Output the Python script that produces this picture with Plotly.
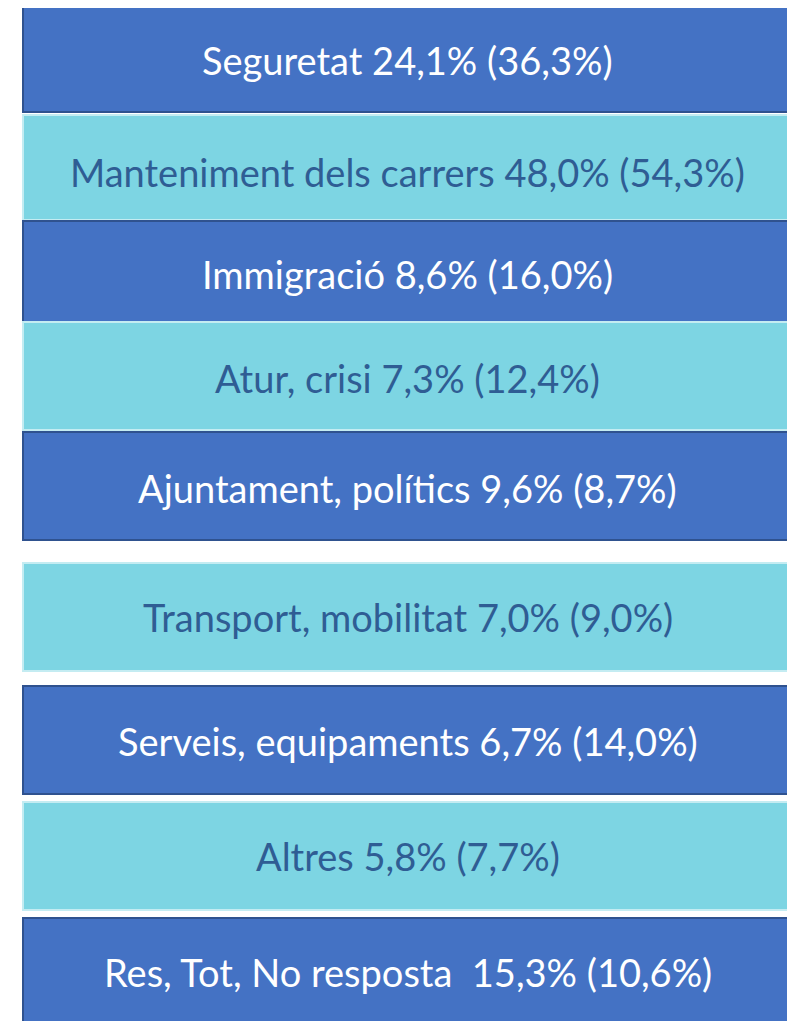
import plotly.graph_objects as go

# Data
categories = ["Seguretat", "Manteniment dels carrers", "Immigració", "Atur, crisi",
              "Ajuntament, polítics", "Transport, mobilitat", "Serveis, equipaments",
              "Altres", "Res, Tot, No resposta "]
pct_current = [24.1, 48.0, 8.6, 7.3, 9.6, 7.0, 6.7, 5.8, 15.3]
pct_previous = [36.3, 54.3, 16.0, 12.4, 8.7, 9.0, 14.0, 7.7, 10.6]

# Layout (pixel geometry of the boxes, in page pixels)
box_top = [5, 115, 221, 322, 432, 563, 686, 802, 918]
box_bottom = [112, 220, 322, 430, 540, 671, 794, 910, 1030]
label_y = [60, 172, 274, 378, 488, 617, 741, 856, 972]
box_left, box_right = 23, 792
W, H = 795, 1021
OFF = 8  # default page body margin

dark_fill, dark_line, dark_text = "#4472C4", "#2F528F", "#FFFFFF"
light_fill, light_line, light_text = "#7DD5E3", "#C4ECF2", "#2F5D94"
is_dark = [True, False, True, False, True, False, True, False, True]

def fmt(v):
    return f"{v:.1f}".replace(".", ",") + "%"

labels = [f"{c} {fmt(a)} ({fmt(b)})" for c, a, b in zip(categories, pct_current, pct_previous)]

fig = go.Figure()
centers = [(t + b) / 2 for t, b in zip(box_top, box_bottom)]
heights = [b - t for t, b in zip(box_top, box_bottom)]

fig.add_trace(go.Bar(
    orientation="h",
    y=centers,
    x=[box_right - box_left] * len(categories),
    base=[box_left] * len(categories),
    width=heights,
    marker=dict(
        color=[dark_fill if d else light_fill for d in is_dark],
        line=dict(color=[dark_line if d else light_line for d in is_dark], width=2),
    ),
    hoverinfo="skip",
    showlegend=False,
))

for y, lab, d in zip(label_y, labels, is_dark):
    fig.add_annotation(
        x=(box_left + box_right) / 2, y=y, text=lab, showarrow=False,
        xanchor="center", yanchor="middle",
        font=dict(family="Lato, sans-serif", size=38, color=dark_text if d else light_text),
    )

fig.update_layout(
    width=W - OFF, height=H - OFF,
    margin=dict(l=0, r=0, t=0, b=0),
    paper_bgcolor="white", plot_bgcolor="white",
    xaxis=dict(range=[OFF, W], visible=False, fixedrange=True),
    yaxis=dict(range=[H, OFF], visible=False, fixedrange=True),
    bargap=0,
)

fig.write_html("out.html")
